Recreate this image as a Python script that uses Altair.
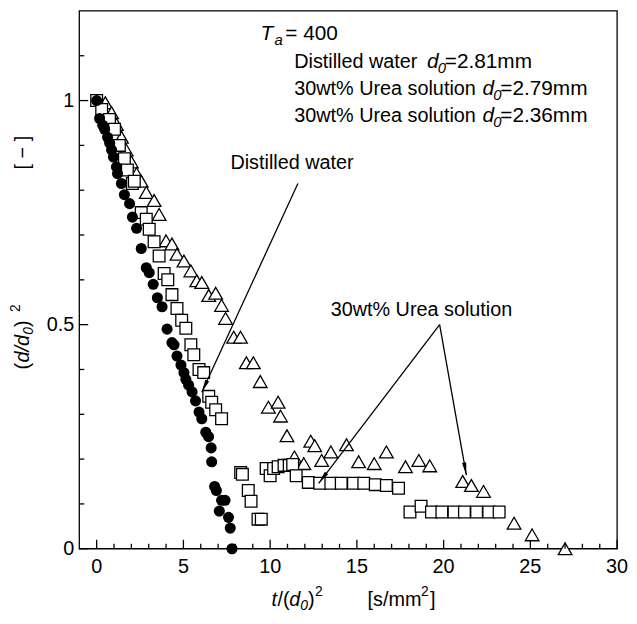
import math
import altair as alt
import pandas as pd

FONT = "Liberation Sans"

# ---------------- data ----------------
water_x = [0, 0.17, 0.35, 0.46, 0.63, 0.75, 0.86, 0.97, 1.14, 1.2, 1.43, 1.6, 1.9, 2.06, 2.3,
           2.57, 2.86, 3.03, 3.26, 3.5, 3.77, 4.06, 4.34, 4.46, 4.63, 4.86, 5.03, 5.14, 5.3, 5.5,
           5.7, 5.9, 6.06, 6.29, 6.45, 6.6, 6.63, 6.8, 6.9, 7.07, 7.2, 7.4, 7.6, 7.7, 7.8]
water_y = [1.0, 0.96, 0.945, 0.936, 0.918, 0.905, 0.89, 0.874, 0.852, 0.837, 0.815, 0.79, 0.77, 0.74, 0.715,
           0.67, 0.627, 0.616, 0.59, 0.56, 0.54, 0.49, 0.46, 0.455, 0.43, 0.41, 0.393, 0.378, 0.365, 0.35,
           0.33, 0.305, 0.29, 0.26, 0.25, 0.225, 0.194, 0.139, 0.13, 0.084, 0.108, 0.108, 0.07, 0.046, 0.0]

urea279_x = [0, 0.29, 0.74, 1.03, 1.31, 1.6, 1.77, 2.06, 2.17, 2.57, 2.86, 3.03, 3.31, 3.6, 3.89, 4.1,
             4.34, 4.63, 4.9, 5.14, 5.43, 5.6, 5.9, 6.17, 6.46, 6.63, 6.86, 7.2, 8.3, 8.4, 8.74, 8.9,
             9.3, 9.49, 9.77, 10.0, 10.2, 10.46, 10.8, 11.1, 11.3, 11.5, 12.2, 12.86, 13.5, 14.1, 14.8,
             15.4, 16.06, 16.7, 17.4, 18.06, 18.7, 19.3, 19.9, 20.6, 21.2, 21.9, 22.6, 23.2]
urea279_y = [1.0, 0.98, 0.958, 0.936, 0.90, 0.87, 0.845, 0.815, 0.82, 0.75, 0.735, 0.713, 0.685, 0.653, 0.614, 0.60,
             0.567, 0.536, 0.51, 0.492, 0.455, 0.433, 0.40, 0.393, 0.34, 0.327, 0.31, 0.29, 0.17, 0.166, 0.13, 0.106,
             0.066, 0.066, 0.179, 0.163, 0.179, 0.183, 0.186, 0.186, 0.188, 0.163, 0.148, 0.146, 0.146, 0.146, 0.146,
             0.146, 0.143, 0.141, 0.135, 0.082, 0.095, 0.082, 0.082, 0.082, 0.082, 0.082, 0.082, 0.082]

urea236_x = [0.5, 0.86, 1.14, 1.43, 1.7, 2.0, 2.3, 2.57, 2.86, 3.31, 3.6, 4.0, 4.34, 4.63, 5.03, 5.43,
             5.77, 6.06, 6.46, 6.86, 7.2, 7.43, 7.9, 8.29, 8.63, 9.03, 9.43, 9.9, 10.46, 10.6, 10.97,
             11.4, 11.94, 12.34, 12.57, 12.97, 13.5, 14.4, 15.1, 16.0, 16.7, 17.8, 18.57, 19.2, 21.1,
             21.6, 22.3, 24.06, 25.1, 27.0]
urea236_y = [0.995, 0.973, 0.947, 0.918, 0.89, 0.863, 0.837, 0.82, 0.795, 0.777, 0.746, 0.687, 0.68, 0.657, 0.642, 0.62,
             0.598, 0.594, 0.565, 0.57, 0.543, 0.514, 0.472, 0.472, 0.415, 0.415, 0.373, 0.316, 0.327, 0.296, 0.252,
             0.205, 0.19, 0.24, 0.23, 0.197, 0.216, 0.232, 0.194, 0.19, 0.216, 0.183, 0.197, 0.185, 0.15,
             0.141, 0.128, 0.057, 0.031, 0.0]

x_major = [0, 5, 10, 15, 20, 25, 30]
x_labels = ["0", "5", "10", "15", "20", "25", "30"]
x_minor = [v for v in range(1, 30) if v % 5 != 0]
y_major = [0, 0.5, 1.0]
y_labels = ["0", "0.5", "1"]
y_minor = [0.1, 0.2, 0.3, 0.4, 0.6, 0.7, 0.8, 0.9, 1.1]

X_DOM = [-1, 30]
Y_DOM = [0, 1.2]
W, H = 543, 543

# annotation anchors (data coordinates)
dw_label = (7.71, 0.86)
dw_arrow = ((11.6, 0.815), (6.06, 0.349))
urea_label = (13.49, 0.533)
urea_start = (19.77, 0.50)
urea_ends = [(12.8, 0.146), (21.31, 0.164)]

xs = alt.Scale(domain=X_DOM, nice=False, zero=False)
ys = alt.Scale(domain=Y_DOM, nice=False, zero=False)


def X(field):
    return alt.X(field, type="quantitative", scale=xs, axis=None)


def Y(field):
    return alt.Y(field, type="quantitative", scale=ys, axis=None)


def series(xv, yv):
    return pd.DataFrame({"x": xv, "y": yv})


# ---------------- frame ----------------
frame = alt.Chart(pd.DataFrame({"k": [0]})).mark_rect(
    filled=False, stroke="black", strokeWidth=1.3).encode(
    x=alt.value(0), x2=alt.value(W), y=alt.value(0), y2=alt.value(H))

# ---------------- data layers ----------------
tri = alt.Chart(series(urea236_x, urea236_y)).mark_point(
    shape="triangle-up", size=190, filled=True, fill="white", stroke="black", strokeWidth=1.3, opacity=1
).encode(x=X("x"), y=Y("y"))

sq = alt.Chart(series(urea279_x, urea279_y)).mark_point(
    shape="square", size=140, filled=True, fill="white", stroke="black", strokeWidth=1.3, opacity=1
).encode(x=X("x"), y=Y("y"))

circ = alt.Chart(series(water_x, water_y)).mark_point(
    shape="circle", size=125, filled=True, color="black", opacity=1
).encode(x=X("x"), y=Y("y"))


# ---------------- ticks (inward) and tick labels ----------------
def xticks(vals, length):
    return alt.Chart(pd.DataFrame({"v": vals})).mark_rule(color="black", strokeWidth=1.3).encode(
        x=X("v"), y=alt.value(H), y2=alt.value(H - length))


def yticks(vals, length):
    return alt.Chart(pd.DataFrame({"v": vals})).mark_rule(color="black", strokeWidth=1.3).encode(
        y=Y("v"), x=alt.value(0), x2=alt.value(length))


ticks = [xticks(x_major, 9), xticks(x_minor, 5), yticks(y_major, 9), yticks(y_minor, 5)]

xlab = alt.Chart(pd.DataFrame({"v": x_major, "t": x_labels})).mark_text(
    font=FONT, fontSize=20, align="center", baseline="middle", color="black").encode(
    x=X("v"), y=alt.value(H + 18), text="t:N")
ylab = alt.Chart(pd.DataFrame({"v": y_major, "t": y_labels})).mark_text(
    font=FONT, fontSize=20, align="right", baseline="middle", color="black").encode(
    y=Y("v"), x=alt.value(-5), text="t:N")

# ---------------- arrows ----------------
PX_X = W / (X_DOM[1] - X_DOM[0])
PX_Y = H / (Y_DOM[1] - Y_DOM[0])
HEAD = "M0,0L-0.33,2L0.33,2Z"


def arrow(start, end):
    line = alt.Chart(pd.DataFrame({"x": [start[0]], "y": [start[1]], "x2": [end[0]], "y2": [end[1]]})).mark_rule(
        color="black", strokeWidth=1.3).encode(x=X("x"), y=Y("y"), x2="x2:Q", y2="y2:Q")
    dx = (end[0] - start[0]) * PX_X
    dy = -(end[1] - start[1]) * PX_Y
    ang = math.degrees(math.atan2(dx, -dy)) % 360
    head = alt.Chart(pd.DataFrame({"x": [end[0]], "y": [end[1]]})).mark_point(
        shape=HEAD, size=170, filled=True, color="black", opacity=1, angle=ang, strokeWidth=0).encode(
        x=X("x"), y=Y("y"))
    return [line, head]


arrows = arrow(*dw_arrow)
for e in urea_ends:
    arrows += arrow(urea_start, e)


def data_text(s, pos, size=20):
    return alt.Chart(pd.DataFrame({"x": [pos[0]], "y": [pos[1]], "t": [s]})).mark_text(
        font=FONT, fontSize=size, align="left", baseline="middle", color="black").encode(
        x=X("x"), y=Y("y"), text="t:N")


annot = [data_text("Distilled water", dw_label), data_text("30wt% Urea solution", urea_label)]


# ---------------- pixel-placed text (legend block, axis titles) ----------------
def ptxt(s, px, py, size=20, italic=False, angle=0):
    kw = dict(font=FONT, fontSize=size, align="left", baseline="middle", color="black",
              fontStyle="italic" if italic else "normal")
    if angle:
        kw["angle"] = angle
    return alt.Chart(pd.DataFrame({"t": [s]})).mark_text(**kw).encode(
        x=alt.value(px - 80), y=alt.value(py - 8), text="t:N")


legend_rows = [
    ("Distilled water", 431, 442, 449, "=2.81mm", 60),
    ("30wt% Urea solution", 487, 498, 505, "=2.79mm", 87),
    ("30wt% Urea solution", 487, 498, 505, "=2.36mm", 114),
]
texts = [ptxt("T", 263, 31, size=21, italic=True), ptxt("a", 277, 37, size=15, italic=True),
         ptxt("= 400", 288, 31, size=21)]
for name, xd, x0, xe, val, yy in legend_rows:
    texts += [ptxt(name, 297, yy, size=20), ptxt("d", xd, yy, size=21, italic=True),
              ptxt("0", x0, yy + 6, size=15, italic=True), ptxt(val, xe, yy, size=21)]

# x title
XT_Y = 603
texts += [ptxt("t", 274, XT_Y, italic=True), ptxt("/(", 280, XT_Y), ptxt("d", 292, XT_Y, italic=True),
          ptxt("0", 303, XT_Y + 6, size=14, italic=True), ptxt(")", 311, XT_Y), ptxt("2", 318, XT_Y - 8, size=14),
          ptxt("[s/mm", 371, XT_Y), ptxt("2", 425, XT_Y - 8, size=14), ptxt("]", 434, XT_Y)]

# y title (rotated, reads bottom to top)
YT_X = 23
texts += [ptxt("(", YT_X, 370, angle=270), ptxt("d/d", YT_X, 363, italic=True, angle=270),
          ptxt("0", YT_X + 6, 335, size=14, italic=True, angle=270), ptxt(")", YT_X, 327, angle=270),
          ptxt("2", YT_X - 7, 312, size=14, angle=270), ptxt("[ \u2212 ]", YT_X, 168, angle=270)]

chart = alt.layer(frame, tri, sq, circ, *ticks, xlab, ylab, *arrows, *annot, *texts).properties(
    width=W, height=H, padding={"left": 72, "top": 0, "right": 12, "bottom": 70}, autosize="none",
    background="white"
).configure_view(strokeWidth=0)

chart.save("out.html", embed_options={"renderer": "svg", "actions": False})
